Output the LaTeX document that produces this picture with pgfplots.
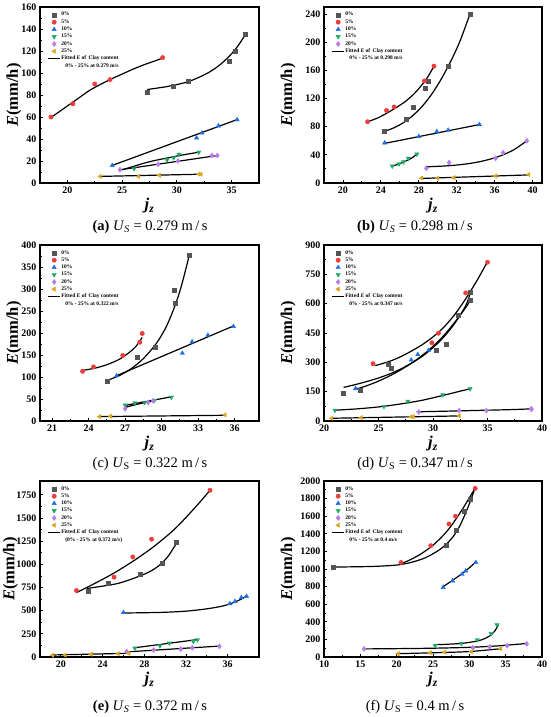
\documentclass[border=0pt]{standalone}
\usepackage{fontspec}
\setmainfont{Liberation Serif}
\usepackage{pgfplots}
\pgfplotsset{compat=1.18}

\definecolor{c0}{RGB}{85,85,85}
\definecolor{c5}{RGB}{240,60,60}
\definecolor{c10}{RGB}{30,110,230}
\definecolor{c15}{RGB}{30,170,100}
\definecolor{c20}{RGB}{185,125,235}
\definecolor{c25}{RGB}{220,165,30}

\pgfplotsset{
  panel/.style={
    scale only axis, height=176pt,
    axis line style={line width=1.3pt},
    tick align=inside, xtick pos=left, ytick pos=left,
    major tick length=3pt, minor tick length=1.8pt,
    every tick/.style={black, line width=0.9pt},
    minor tick num=1,
    tick label style={font=\fontsize{10}{11}\selectfont\bfseries},
    /pgf/number format/assume math mode=true,
    /pgf/number format/1000 sep={},
    xlabel={\textbf{\textit{j}}\textsubscript{\textbf{\textit{z}}}},
    ylabel={\textbf{\textit{E}(mm/h)}},
    label style={font=\fontsize{16.5}{17}\selectfont},
    xlabel style={yshift=2pt},
    legend style={draw=none, fill=none, font=\fontsize{5.5}{6}\selectfont\bfseries,
      at={(0.02,0.985)}, anchor=north west, row sep=1.1pt,
      nodes={inner sep=0.5pt}},
    legend cell align=left,
  },
  ylab/.style={ylabel style={at={(axis description cs:#1,0.5)}, anchor=center}},
  mk/.style={only marks, mark size=2.2pt, color=#1, fill=#1,
    legend image code/.code={\draw[##1] plot coordinates {(6pt,0pt)};}},
  s0/.style={mk=c0, mark=square*, mark size=2pt},
  s5/.style={mk=c5, mark=*},
  s10/.style={mk=c10, mark=triangle*, mark size=2.5pt},
  s15/.style={mk=c15, mark=triangle*, mark size=2.5pt, mark options={rotate=180}},
  s20/.style={mk=c20, mark=diamond*, mark size=2.6pt},
  s25/.style={mk=c25, mark=triangle*, mark size=2.5pt, mark options={rotate=90}},
  fitl/.style={black, line width=1.2pt, smooth, no marks,
    legend image code/.code={\draw[##1] (0pt,0pt) -- (12pt,0pt);}},
  fit/.style={fitl, forget plot},
}
\newcommand{\stdlegend}[1]{%
  \addlegendentry{0\%}\addlegendentry{5\%}\addlegendentry{10\%}%
  \addlegendentry{15\%}\addlegendentry{20\%}\addlegendentry{25\%}}

\begin{document}
\begin{tikzpicture}
\useasboundingbox (0,0) rectangle (550pt,-717pt);

% ---------- (a) ----------
\begin{axis}[panel, width=219pt, at={(40pt,-183pt)}, anchor=south west, ylab=-0.119,
  xmin=17.5, xmax=37.5, ymin=0, ymax=160, xtick={20,25,30,35}, ytick={0,20,...,160}]
\addplot[s0] coordinates {(27.3,83) (29.7,88) (31,93) (34.8,111) (35.3,120) (36.2,135)};
\addplot[s5] coordinates {(18.5,60) (20.5,72) (22.5,90) (23.9,94) (28.7,114)};
\addplot[s10] coordinates {(24.1,16) (31.8,41) (32.3,45.5) (33.8,52) (35.5,57.5)};
\addplot[s15] coordinates {(26.1,13) (29.1,21) (29.7,23) (30.2,26) (32,28)};
\addplot[s20] coordinates {(24.8,12) (28.3,17) (30.1,20) (33.2,25) (33.7,25)};
\addplot[s25] coordinates {(23,6) (26.5,6) (28.4,7) (32,8) (32.2,8)};
\stdlegend{}
\addplot[fitl] coordinates {(27.3,85) (28,86) (29,87.5) (30,89.5) (31,92) (32,96) (33,101) (34,108) (35,117.5) (35.6,125) (36.2,134)};
\addlegendentry{Fitted \textit{E} of\, Clay content}
\addlegendimage{empty legend}\addlegendentry{\hspace*{4pt}0\% - 25\% at 0.279 m/s}
\addplot[fit] coordinates {(18.5,59.5) (20,70) (21,77) (22,84) (23,89.5) (24,94.5) (25,99) (26,103.5) (27,107.5) (28,111) (28.7,113.5)};
\addplot[fit] coordinates {(24.1,16) (35.6,58)};
\addplot[fit] coordinates {(25,12) (26,15) (27,18) (28,20.5) (29,22.5) (30,24.5) (31,26.3) (32,28)};
\addplot[fit] coordinates {(24.8,12) (33.7,25)};
\addplot[fit] coordinates {(23,6) (32.2,8)};
\end{axis}

% ---------- (b) ----------
\begin{axis}[panel, width=218pt, at={(324pt,-183pt)}, anchor=south west, ylab=-0.165,
  xmin=18, xmax=41, ymin=0, ymax=250, xtick={20,24,...,40}, ytick={0,40,...,240}]
\addplot[s0] coordinates {(24.3,74) (26.7,91) (27.4,108) (28.7,135) (29.0,144) (31.1,166) (33.4,240)};
\addplot[s5] coordinates {(22.6,87) (24.6,103) (25.4,108) (28.6,145) (29.6,166)};
\addplot[s10] coordinates {(24.4,57) (28,66) (29.9,73) (31.1,75) (34.4,83)};
\addplot[s15] coordinates {(25.2,24) (25.9,27) (26.4,30) (26.9,35) (27.8,41)};
\addplot[s20] coordinates {(28.8,21) (31.2,29) (36.1,35) (36.9,43) (39.4,60)};
\addplot[s25, forget plot] coordinates {(28.3,7) (30,7) (31.7,7.5) (36.1,10) (39.6,12)};
\addlegendentry{0\%}\addlegendentry{5\%}\addlegendentry{10\%}\addlegendentry{15\%}\addlegendentry{20\%}
\addplot[fitl] coordinates {(24.3,73) (25.3,78) (26.3,85) (27.3,95) (28.3,108) (29.3,125) (30.3,146) (31.3,171) (32.3,200) (33.4,240)};
\addlegendentry{Fitted \textit{E} of\, Clay content}
\addlegendimage{empty legend}\addlegendentry{\hspace*{4pt}0\% - 25\% at 0.298 m/s}
\addplot[fit] coordinates {(22.6,87) (23.6,92) (24.6,99) (25.6,107) (26.6,116) (27.6,128) (28.6,144) (29.1,154) (29.6,166)};
\addplot[fit] coordinates {(24.3,56) (34.4,83)};
\addplot[fit] coordinates {(25.2,24) (25.9,27) (26.5,30.5) (27.2,35) (27.8,41)};
\addplot[fit] coordinates {(28.8,23) (30.5,24) (32,25.5) (33.5,28) (35,32) (36.5,38) (38,47) (39.4,60)};
\addplot[fit] coordinates {(28.3,6.5) (39.6,11.5)};
\end{axis}

% ---------- (c) ----------
\begin{axis}[panel, width=219pt, at={(40pt,-421pt)}, anchor=south west, ylab=-0.119,
  xmin=20, xmax=38, ymin=0, ymax=400, xtick={21,24,...,36}, ytick={0,50,...,400}]
\addplot[s0] coordinates {(25.5,91) (28.0,144) (29.5,167) (31.0,298) (31.1,268) (32.3,377)};
\addplot[s5] coordinates {(23.5,113) (24.4,123) (26.8,149) (28.2,179) (28.4,199)};
\addplot[s10] coordinates {(26.3,103) (31.7,154) (32.5,180) (33.8,195) (35.9,215)};
\addplot[s15] coordinates {(27,36) (27.8,41) (28.6,42) (29.4,47) (30.8,54)};
\addplot[s20] coordinates {(27,28) (28.9,42) (29.3,46)};
\addplot[s25] coordinates {(24.9,10) (25.8,11) (35.2,14)};
\stdlegend{}
\addplot[fitl] coordinates {(25.5,92) (26.5,103) (27.5,119) (28.5,142) (29.5,174) (30.3,210) (31,255) (31.6,305) (32.3,380)};
\addlegendentry{Fitted \textit{E} of\, Clay content}
\addlegendimage{empty legend}\addlegendentry{\hspace*{4pt}0\% - 25\% at 0.322 m/s}
\addplot[fit] coordinates {(23.5,115) (24.5,120) (25.5,128) (26.5,140) (27.3,155) (27.9,170) (28.4,190)};
\addplot[fit] coordinates {(26.3,103) (35.9,216)};
\addplot[fit] coordinates {(26.9,35) (30.8,55)};
\addplot[fit] coordinates {(27,31) (28,38) (29.3,46)};
\addplot[fit] coordinates {(24.8,10) (35.2,13)};
\end{axis}

% ---------- (d) ----------
\begin{axis}[panel, width=218pt, at={(324pt,-421pt)}, anchor=south west, ylab=-0.165,
  xmin=20, xmax=40, ymin=0, ymax=900, xtick={20,25,...,40}, ytick={0,150,...,900}]
\addplot[s0] coordinates {(21.8,142) (23.3,160) (25.9,292) (26.2,271) (30.3,360) (31.2,393) (32.3,540) (33.4,659) (33.4,617)};
\addplot[s5] coordinates {(24.5,293) (29.9,400) (30.5,449) (33,655) (35,812)};
\addplot[s10] coordinates {(22.9,166) (28,312) (28.6,340) (29.6,362)};
\addplot[s15] coordinates {(21,55) (25.5,74) (27.7,101) (30.9,134) (33.4,165)};
\addplot[s20] coordinates {(28.7,46) (32.4,53) (34.9,53) (39,62) (39.05,60)};
\addplot[s25] coordinates {(20.7,14) (23.4,17) (28,22) (28.2,22) (32.4,27)};
\stdlegend{}
\addplot[fitl] coordinates {(21.8,172) (23,188) (24,203) (25,220) (26,240) (27,265) (28,295) (29,330) (30,375) (31,430) (32,500) (33,590) (33.4,650)};
\addlegendentry{Fitted \textit{E} of\, Clay content}
\addlegendimage{empty legend}\addlegendentry{\hspace*{4pt}0\% - 25\% at 0.347 m/s}
\addplot[fit] coordinates {(24.7,283) (26,305) (27,328) (28,357) (29,390) (30,430) (31,480) (32,545) (33,625) (34,715) (35,815)};
\addplot[fit] coordinates {(22.8,160) (24,182) (25,204) (26,230) (27,260) (28,295) (29,335) (30,382) (31,438) (32,505) (33,580) (33.4,615)};
\addplot[fit] coordinates {(21,55) (23,62) (25,72) (27,87) (29,106) (31,132) (33.4,165)};
\addplot[fit] coordinates {(28.5,47) (31,50) (34,54) (37,58) (39,62)};
\addplot[fit] coordinates {(20.7,14) (32.4,26)};
\end{axis}

% ---------- (e) ----------
\begin{axis}[panel, width=219pt, at={(40pt,-657pt)}, anchor=south west, ylab=-0.135,
  xmin=18, xmax=39, ymin=0, ymax=1900, xtick={20,24,...,36}, ytick={0,250,...,1750}]
\addplot[s0] coordinates {(22.6,714) (24.5,797) (27.6,899) (29.7,1011) (31.1,1243)};
\addplot[s5] coordinates {(21.5,717) (25.1,862) (26.9,1080) (28.7,1272) (34.3,1800)};
\addplot[s10] coordinates {(26,480) (36.2,575) (36.7,600) (37.3,640) (37.8,655)};
\addplot[s15] coordinates {(27.1,96) (29.5,121) (30.4,150) (32.7,168) (33.1,186)};
\addplot[s20] coordinates {(26.3,60) (28.9,75) (31.5,85) (32.6,100) (35.2,115)};
\addplot[s25] coordinates {(19.2,20) (20.4,20) (22.9,30) (25.5,35) (26.5,40)};
\stdlegend{}
\addplot[fitl] coordinates {(22.5,740) (24,765) (25.5,795) (27,850) (28.5,920) (29.5,995) (30.3,1090) (31.1,1230)};
\addlegendentry{Fitted \textit{E} of\, Clay content}
\addlegendimage{empty legend}\addlegendentry{\hspace*{4pt}(0\% - 25\% at 0.372 m/s)}
\addplot[fit] coordinates {(21.5,695) (23,780) (25,900) (27,1040) (29,1200) (31,1390) (33,1630) (34.3,1800)};
\addplot[fit] coordinates {(26,475) (28,478) (30,483) (32,495) (34,520) (35.5,550) (36.5,585) (37.3,625) (37.8,658)};
\addplot[fit] coordinates {(27.1,100) (33.2,190)};
\addplot[fit] coordinates {(26.3,55) (35.2,118)};
\addplot[fit] coordinates {(19.2,22) (26.5,40)};
\end{axis}

% ---------- (f) ----------
\begin{axis}[panel, width=218pt, at={(324pt,-657pt)}, anchor=south west, ylab=-0.165,
  xmin=10, xmax=40, ymin=0, ymax=2000, xtick={10,15,...,40}, ytick={0,200,...,2000}]
\addplot[s0] coordinates {(11.3,1021) (26.8,1269) (28.2,1436) (29.3,1657) (30.1,1798)};
\addplot[s5] coordinates {(20.6,1074) (24.7,1265) (27.2,1512) (28.1,1600) (30.8,1916)};
\addplot[s10] coordinates {(26.4,792) (27.7,865) (29,941) (29.5,979) (30.9,1074)};
\addplot[s15] coordinates {(25.3,131) (28.9,154) (31.1,196) (33,265) (33.8,365)};
\addplot[s20] coordinates {(15.5,92) (30.5,105) (32.8,115) (35.2,128) (37.9,150)};
\addplot[s25] coordinates {(20.2,38) (24.6,50) (26.6,55) (30.3,60) (34.3,95)};
\stdlegend{}
\addplot[fitl] coordinates {(11.3,1022) (14,1025) (17,1030) (20,1045) (22,1075) (24,1130) (26,1225) (27.5,1340) (28.5,1460) (29.3,1600) (30,1740) (30.7,1900)};
\addlegendentry{Fitted \textit{E} of\, Clay content}
\addlegendimage{empty legend}\addlegendentry{\hspace*{4pt}0\% - 25\% at 0.4 m/s}
\addplot[fit] coordinates {(20.6,1060) (22,1110) (23.5,1180) (25,1270) (26.5,1390) (27.5,1490) (28.5,1610) (29.5,1740) (30.8,1920)};
\addplot[fit] coordinates {(26.3,795) (27.5,860) (28.7,930) (29.8,1000) (30.9,1080)};
\addplot[fit] coordinates {(25.3,140) (27,145) (29,155) (31,180) (32,205) (33,250) (33.5,295) (34,365)};
\addplot[fit] coordinates {(15.6,92) (20,95) (25,100) (30,110) (34,127) (38,155)};
\addplot[fit] coordinates {(20.2,38) (25,48) (30,62) (34.4,95)};
\end{axis}

% ---------- captions ----------
\begin{scope}[every node/.style={font=\fontsize{14.5}{15}\selectfont}]
\node at (150pt,-227pt) {\textbf{(a)} \textit{U}\textsubscript{\textit{S}} = 0.279 m\,/\,s};
\node at (415pt,-227pt) {\textbf{(b)} \textit{U}\textsubscript{\textit{S}} = 0.298 m\,/\,s};
\node at (150pt,-464pt) {(c) \textit{U}\textsubscript{S} = 0.322 m\,/\,s};
\node at (415pt,-464pt) {(d) \textit{U}\textsubscript{S} = 0.347 m\,/\,s};
\node at (150pt,-707pt) {\textbf{(e)} \textit{U}\textsubscript{\textit{S}} = 0.372 m\,/\,s};
\node at (415pt,-707pt) {(f) \textit{U}\textsubscript{S} = 0.4 m\,/\,s};
\end{scope}
\end{tikzpicture}
\end{document}
